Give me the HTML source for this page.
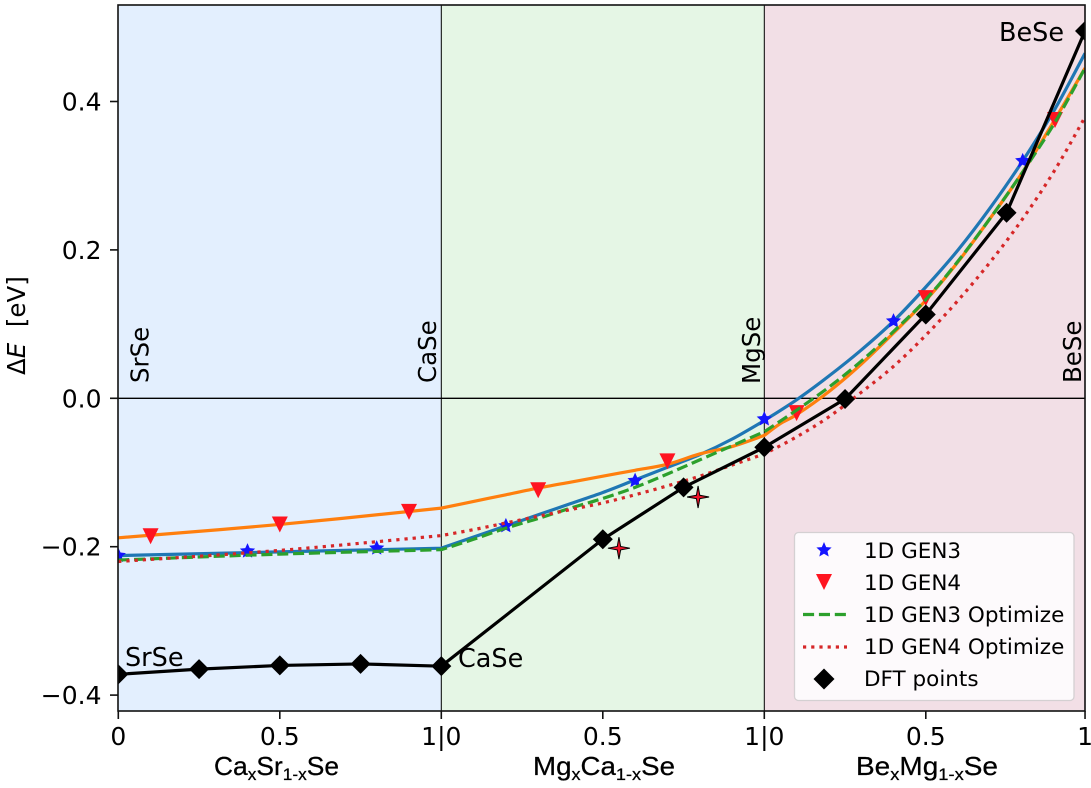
<!DOCTYPE html>
<html>
<head>
<meta charset="utf-8">
<title>Delta E chart</title>
<style>
html,body{margin:0;padding:0;background:#fff;}
svg{display:block;}
text{font-family:"DejaVu Sans","Liberation Sans",sans-serif;fill:#000;}
.xl{font-family:"Liberation Sans",sans-serif;font-size:26px;stroke:#000;stroke-width:0.25px;}
.xl tspan.s{font-size:17px;}
</style>
</head>
<body>
<svg id="chart" width="1091" height="788" viewBox="0 0 1091 788" xmlns="http://www.w3.org/2000/svg">
  <defs><clipPath id="plot-clip"><rect x="118" y="5" width="967" height="706"/></clipPath></defs>
  <g id="bands"></g>
  <g id="marks" clip-path="url(#plot-clip)"></g>
  <g id="axes"></g>

  <g font-size="24.5">
    <text transform="translate(148.5,383) rotate(-90)">SrSe</text>
    <text transform="translate(436,383) rotate(-90)">CaSe</text>
    <text transform="translate(760,384) rotate(-90)">MgSe</text>
    <text transform="translate(1081,383) rotate(-90)">BeSe</text>
    <text x="125" y="666" font-size="25.5">SrSe</text>
    <text x="458" y="667" font-size="25.5">CaSe</text>
    <text x="999" y="41" font-size="25.5">BeSe</text>
  </g>

  <text transform="translate(25,375) rotate(-90)" font-size="24.5"><tspan>Δ</tspan><tspan font-style="italic">E</tspan><tspan xml:space="preserve">  [eV]</tspan></text>

  <text class="xl" x="214" y="775" textLength="125" lengthAdjust="spacingAndGlyphs">Ca<tspan class="s" dy="5">x</tspan><tspan dy="-5">Sr</tspan><tspan class="s" dy="5">1-x</tspan><tspan dy="-5">Se</tspan></text>
  <text class="xl" x="533" y="775" textLength="142" lengthAdjust="spacingAndGlyphs">Mg<tspan class="s" dy="5">x</tspan><tspan dy="-5">Ca</tspan><tspan class="s" dy="5">1-x</tspan><tspan dy="-5">Se</tspan></text>
  <text class="xl" x="856" y="775" textLength="142" lengthAdjust="spacingAndGlyphs">Be<tspan class="s" dy="5">x</tspan><tspan dy="-5">Mg</tspan><tspan class="s" dy="5">1-x</tspan><tspan dy="-5">Se</tspan></text>

  <g>
    <rect x="794.5" y="532.5" width="279.5" height="168" rx="4" ry="4" fill="#fff" fill-opacity="0.85" stroke="#d4d0d2" stroke-width="1.3"/>
    <g>
      <polygon transform="translate(824,550)" fill="#1414ff" points="0,-8 2.2,-2.9 7.6,-2.5 3.5,1.2 4.7,6.5 0,3.8 -4.7,6.5 -3.5,1.2 -7.6,-2.5 -2.2,-2.9"/>
      <text x="864" y="558" font-size="21.5">1D GEN3</text>
    </g>
    <g>
      <polygon transform="translate(824,582)" fill="#ff1420" points="-8,-8 8,-8 0,8"/>
      <text x="864" y="590" font-size="21.5">1D GEN4</text>
    </g>
    <g>
      <line x1="803" y1="614.5" x2="847" y2="614.5" stroke="#2ca02c" stroke-width="3.2" stroke-dasharray="11.1 4.8"/>
      <text x="864" y="622" font-size="21.5">1D GEN3 Optimize</text>
    </g>
    <g>
      <line x1="803" y1="647" x2="847" y2="647" stroke="#d62728" stroke-width="3.2" stroke-dasharray="3.2 5"/>
      <text x="864" y="654" font-size="21.5">1D GEN4 Optimize</text>
    </g>
    <g>
      <polygon transform="translate(824,679)" fill="#000" points="0,-10.5 10.5,0 0,10.5 -10.5,0"/>
      <text x="864" y="686" font-size="21.5">DFT points</text>
    </g>
  </g>
</svg>
<script>
// ---- chart data (x = composition coordinate across the three alloy panels, y = eV) ----
var xTicks = [0, 0.5, 1, 1.5, 2, 2.5, 2.993];
var xTickLabels = ['0', '0.5', '1|0', '0.5', '1|0', '0.5', '1'];
var yTicks = [-0.4, -0.2, 0, 0.2, 0.4];
var yTickLabels = ['\u22120.4', '\u22120.2', '0.0', '0.2', '0.4'];

var gen3StarX = [0, 0.4, 0.8, 1.2, 1.6, 2.0, 2.4, 2.8];
var gen3StarY = [-0.212, -0.206, -0.202, -0.172, -0.111, -0.028, 0.104, 0.32];

var gen4TriX = [0.1, 0.5, 0.9, 1.3, 1.7, 2.1, 2.5, 2.9];
var gen4TriY = [-0.186, -0.170, -0.153, -0.124, -0.085, -0.020, 0.135, 0.375];

var gen3LineX = [0, 0.5, 1, 1.1, 1.2, 1.3, 1.4, 1.5, 1.6, 1.7, 1.8, 1.9, 2, 2.1, 2.2, 2.3, 2.4, 2.5, 2.6, 2.7, 2.8, 2.9, 2.993];
var gen3LineY = [-0.212, -0.207, -0.202, -0.187, -0.172, -0.157, -0.142, -0.127, -0.110, -0.093, -0.076, -0.055, -0.030, -0.002, 0.030, 0.065, 0.104, 0.150, 0.200, 0.257, 0.320, 0.390, 0.465];

var gen4LineX = [0, 0.5, 1, 1.1, 1.2, 1.3, 1.4, 1.5, 1.6, 1.7, 1.8, 1.9, 2, 2.05, 2.1, 2.2, 2.3, 2.4, 2.5, 2.6, 2.7, 2.8, 2.9, 2.993];
var gen4LineY = [-0.188, -0.170, -0.148, -0.139, -0.130, -0.121, -0.113, -0.105, -0.097, -0.089, -0.075, -0.065, -0.050, -0.034, -0.022, 0.009, 0.046, 0.088, 0.132, 0.184, 0.243, 0.305, 0.376, 0.445];

var gen3OptX = [0, 0.5, 1, 1.1, 1.2, 1.3, 1.4, 1.5, 1.6, 1.7, 1.8, 1.9, 2, 2.1, 2.2, 2.3, 2.4, 2.5, 2.6, 2.7, 2.8, 2.9, 2.993];
var gen3OptY = [-0.218, -0.210, -0.204, -0.190, -0.175, -0.162, -0.148, -0.135, -0.120, -0.102, -0.083, -0.064, -0.045, -0.016, 0.015, 0.050, 0.090, 0.133, 0.185, 0.243, 0.305, 0.372, 0.445];

var gen4OptX = [0, 0.5, 1, 1.1, 1.2, 1.3, 1.4, 1.5, 1.6, 1.7, 1.8, 1.9, 2, 2.1, 2.2, 2.3, 2.4, 2.5, 2.6, 2.7, 2.8, 2.9, 2.993];
var gen4OptY = [-0.220, -0.205, -0.185, -0.177, -0.168, -0.159, -0.150, -0.141, -0.130, -0.118, -0.105, -0.090, -0.075, -0.052, -0.025, 0.008, 0.043, 0.085, 0.132, 0.184, 0.242, 0.308, 0.379];

var dftX = [0, 0.25, 0.5, 0.75, 1, 1.5, 1.75, 2, 2.25, 2.5, 2.75, 2.993];
var dftY = [-0.372, -0.365, -0.360, -0.358, -0.361, -0.190, -0.120, -0.066, -0.001, 0.113, 0.250, 0.495];

var sparkleX = [1.55, 1.795];
var sparkleY = [-0.202, -0.133];

var bandEdges = [0, 1, 2, 2.993];
var bandNames = ['casr-band', 'mgca-band', 'bemg-band'];
var bandColors = ['#e3effe', '#e5f6e5', '#f2dfe6'];

// ---- axis functions ----
function xScale(v) { return 118.3 + v * 323; }
function yScale(v) { return 398.3 - v * 742; }

var NS = 'http://www.w3.org/2000/svg';
function make(tag, parent) {
  var el = document.createElementNS(NS, tag);
  parent.appendChild(el);
  return el;
}
var bands = document.getElementById('bands');
var marks = document.getElementById('marks');
var axes = document.getElementById('axes');

// smooth curve through read points, keeping the kinks at panel boundaries
function curvePath(xs, ys) {
  var pts = xs.map(function (x, i) { return [xScale(x), yScale(ys[i]), x]; });
  var d = 'M' + pts[0][0].toFixed(2) + ' ' + pts[0][1].toFixed(2);
  function isBreak(p) { return p[2] === 1 || p[2] === 2; }
  for (var i = 0; i < pts.length - 1; i++) {
    var p1 = pts[i], p2 = pts[i + 1];
    var p0 = (i > 0 && !isBreak(p1)) ? pts[i - 1] : p1;
    var p3 = (i + 2 < pts.length && !isBreak(p2)) ? pts[i + 2] : p2;
    var c1x = p1[0] + (p2[0] - p0[0]) / 6, c1y = p1[1] + (p2[1] - p0[1]) / 6;
    var c2x = p2[0] - (p3[0] - p1[0]) / 6, c2y = p2[1] - (p3[1] - p1[1]) / 6;
    d += 'C' + c1x.toFixed(2) + ' ' + c1y.toFixed(2) + ' ' + c2x.toFixed(2) + ' ' + c2y.toFixed(2) + ' ' + p2[0].toFixed(2) + ' ' + p2[1].toFixed(2);
  }
  return d;
}
function starPoints(cx, cy, R, r, n) {
  var out = [];
  for (var i = 0; i < n * 2; i++) {
    var a = -Math.PI / 2 + i * Math.PI / n;
    var rad = i % 2 ? r : R;
    out.push((cx + rad * Math.cos(a)).toFixed(2) + ',' + (cy + rad * Math.sin(a)).toFixed(2));
  }
  return out.join(' ');
}

// ---- bands ----
bandNames.forEach(function (name, i) {
  var r = make('rect', bands);
  
  
  r.setAttribute('x', xScale(bandEdges[i]));
  r.setAttribute('y', 5);
  r.setAttribute('width', xScale(bandEdges[i + 1]) - xScale(bandEdges[i]));
  r.setAttribute('height', 706);
  r.setAttribute('fill', bandColors[i]);
});

// ---- reference lines ----
[1, 2].forEach(function (v) {
  var l = make('line', marks);
  
  
  l.setAttribute('x1', xScale(v));
  l.setAttribute('x2', xScale(v));
  l.setAttribute('y1', 5);
  l.setAttribute('y2', 711);
  l.setAttribute('stroke', '#000');
  l.setAttribute('stroke-width', 1);
});
var zeroLine = make('line', marks);


zeroLine.setAttribute('x1', 118);
zeroLine.setAttribute('x2', 1085);
zeroLine.setAttribute('y1', yScale(0));
zeroLine.setAttribute('y2', yScale(0));
zeroLine.setAttribute('stroke', '#000');
zeroLine.setAttribute('stroke-width', 1.4);

// ---- fit lines drawn beneath the markers ----
var gen3Line = make('path', marks);


gen3Line.setAttribute('d', curvePath(gen3LineX, gen3LineY));
gen3Line.setAttribute('fill', 'none');
gen3Line.setAttribute('stroke', '#1f77b4');
gen3Line.setAttribute('stroke-width', 3.2);

var gen4Line = make('path', marks);


gen4Line.setAttribute('d', curvePath(gen4LineX, gen4LineY));
gen4Line.setAttribute('fill', 'none');
gen4Line.setAttribute('stroke', '#ff7f0e');
gen4Line.setAttribute('stroke-width', 3.2);

// ---- markers ----
gen3StarX.forEach(function (x, i) {
  var s = make('polygon', marks);
  
  
  s.setAttribute('points', starPoints(xScale(x), yScale(gen3StarY[i]), 8, 3.8, 5));
  s.setAttribute('fill', '#1414ff');
});
gen4TriX.forEach(function (x, i) {
  var cx = xScale(x), cy = yScale(gen4TriY[i]);
  var t = make('polygon', marks);
  
  
  t.setAttribute('points', (cx - 8) + ',' + (cy - 8) + ' ' + (cx + 8) + ',' + (cy - 8) + ' ' + cx + ',' + (cy + 8));
  t.setAttribute('fill', '#ff1420');
});

// ---- optimized lines ----
var gen3Opt = make('path', marks);


gen3Opt.setAttribute('d', curvePath(gen3OptX, gen3OptY));
gen3Opt.setAttribute('fill', 'none');
gen3Opt.setAttribute('stroke', '#2ca02c');
gen3Opt.setAttribute('stroke-width', 3.2);
gen3Opt.setAttribute('stroke-dasharray', '11.1 4.8');

var gen4Opt = make('path', marks);


gen4Opt.setAttribute('d', curvePath(gen4OptX, gen4OptY));
gen4Opt.setAttribute('fill', 'none');
gen4Opt.setAttribute('stroke', '#d62728');
gen4Opt.setAttribute('stroke-width', 3.2);
gen4Opt.setAttribute('stroke-dasharray', '3.2 5');

// ---- DFT ----
var dftLine = make('polyline', marks);


dftLine.setAttribute('points', dftX.map(function (x, i) { return xScale(x) + ',' + yScale(dftY[i]); }).join(' '));
dftLine.setAttribute('fill', 'none');
dftLine.setAttribute('stroke', '#000');
dftLine.setAttribute('stroke-width', 3.2);

dftX.forEach(function (x, i) {
  var cx = xScale(x), cy = yScale(dftY[i]);
  var d = make('polygon', marks);
  
  
  d.setAttribute('points', cx + ',' + (cy - 10) + ' ' + (cx + 10) + ',' + cy + ' ' + cx + ',' + (cy + 10) + ' ' + (cx - 10) + ',' + cy);
  d.setAttribute('fill', '#000');
});

// ---- four-point highlighted markers ----
sparkleX.forEach(function (x, i) {
  var s = make('polygon', marks);
  
  
  s.setAttribute('points', starPoints(xScale(x), yScale(sparkleY[i]), 11, 2.4, 4));
  s.setAttribute('fill', '#f0142a');
  s.setAttribute('stroke', '#000');
  s.setAttribute('stroke-width', 1);
});

// ---- axes frame, ticks, labels ----
var frame = make('rect', axes);


frame.setAttribute('x', 118);
frame.setAttribute('y', 5);
frame.setAttribute('width', 967);
frame.setAttribute('height', 706);
frame.setAttribute('fill', 'none');
frame.setAttribute('stroke', '#111');
frame.setAttribute('stroke-width', 1.6);

xTicks.forEach(function (v, i) {
  var t = make('line', axes);
  
  
  t.setAttribute('x1', xScale(v));
  t.setAttribute('x2', xScale(v));
  t.setAttribute('y1', 711);
  t.setAttribute('y2', 719);
  t.setAttribute('stroke', '#111');
  t.setAttribute('stroke-width', 1.6);
  var l = make('text', axes);
  
  
  l.setAttribute('x', xScale(v));
  l.setAttribute('y', 745);
  l.setAttribute('text-anchor', 'middle');
  l.setAttribute('font-size', '25');
  l.textContent = xTickLabels[i];
});
yTicks.forEach(function (v, i) {
  var t = make('line', axes);
  
  
  t.setAttribute('x1', 110);
  t.setAttribute('x2', 118);
  t.setAttribute('y1', yScale(v));
  t.setAttribute('y2', yScale(v));
  t.setAttribute('stroke', '#111');
  t.setAttribute('stroke-width', 1.6);
  var l = make('text', axes);
  
  
  l.setAttribute('x', 101.5);
  l.setAttribute('y', yScale(v) + 9);
  l.setAttribute('text-anchor', 'end');
  l.setAttribute('font-size', '25');
  l.textContent = yTickLabels[i];
});
</script>
</body>
</html>
